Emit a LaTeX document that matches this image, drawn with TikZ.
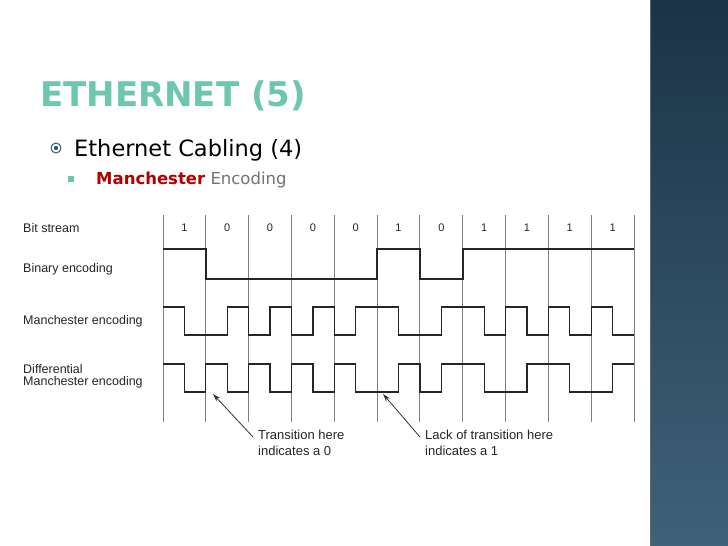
\documentclass[tikz,border=0pt]{standalone}
\usepackage{fontspec}
\setmainfont{Liberation Sans}
\newfontfamily\slidefont{DejaVu Sans}
\newfontfamily\titlefont{DejaVu Sans}
\usetikzlibrary{arrows.meta}
\definecolor{paneltop}{HTML}{1B3346}
\definecolor{panelbot}{HTML}{3F6279}
\definecolor{titleteal}{HTML}{6CC7AE}
\definecolor{darkred}{HTML}{B00000}
\definecolor{bulletblue}{HTML}{2F5A78}
\tikzset{
  lbl/.style={anchor=west, font=\fontsize{12.5}{13}\selectfont, text=black!85, inner sep=0pt, align=left},
  bit/.style={font=\fontsize{11}{12}\selectfont, inner sep=0pt, text=black!85},
  grid/.style={draw=black!50, line width=0.9pt},
  sig/.style={draw=black!85, line width=1.3pt},
  note/.style={anchor=north west, font=\fontsize{13}{16}\selectfont, inner sep=0pt, align=left, text=black!85},
  arr/.style={draw=black!80, line width=0.8pt, -{Stealth[length=8pt,width=5pt]}}
}
\begin{document}
\begin{tikzpicture}[x=1pt,y=-1pt]
\useasboundingbox (0,0) rectangle (728,546);
\fill[white] (0,0) rectangle (728,546);
\shade[top color=paneltop, bottom color=panelbot] (650,0) rectangle (728,546);
\draw[black!60, line width=1pt] (650,0) -- (650,546);
% title
\node[anchor=west, inner sep=0pt, text=titleteal, font=\titlefont\bfseries\fontsize{34}{40}\selectfont] (title) at (40,96) {ETHERNET (5)};
% bullets
\node[circle, draw=bulletblue, line width=1pt, minimum size=10pt, inner sep=0pt] (b1) at (56,148) {};
\fill[bulletblue] (b1.center) circle (2.2pt);
\node[anchor=west, inner sep=0pt, font=\slidefont\fontsize{22.5}{24}\selectfont] (t1) at (74,150) {Ethernet Cabling (4)};
\node[fill=titleteal, minimum size=6pt, inner sep=0pt] (b2) at (71,179) {};
\node[anchor=west, inner sep=0pt, font=\slidefont\fontsize{16.5}{18}\selectfont] (t2) at (96,180) {\textcolor{darkred}{\bfseries Manchester} \textcolor{black!55}{Encoding}};
% row labels
\node[lbl] (l1) at (23,228) {Bit stream};
\node[lbl] (l2) at (23,269) {Binary encoding};
\node[lbl] (l3) at (23,321) {Manchester encoding};
\node[lbl] (l4) at (23,376) {Differential\\[-1pt]Manchester encoding};
% grid
\foreach \i in {0,...,11} {
  \draw[grid] ({163+\i*42.82},215) -- ({163+\i*42.82},422);
}
\foreach \b [count=\i from 0] in {1,0,0,0,0,1,0,1,1,1,1} {
  \node[bit] (bit\i) at ({184.4+\i*42.82},228) {\b};
}
% signals
\def\W{42.82}
\def\H{21.41}
\draw[sig] (163,249) -- (206,249) -- (206,279) -- (377,279) -- (377,249) -- (420,249) -- (420,279) -- (463,279) -- (463,249) -- (634,249);
% Manchester
\draw[sig] (163,307)
  \foreach \b [count=\i from 0] in {1,0,0,0,0,1,0,1,1,1,1} {
    \ifnum\b=1
      -- ({163+\i*\W},307) -- ({163+\i*\W+\H},307) -- ({163+\i*\W+\H},335) -- ({163+(\i+1)*\W},335)
    \else
      -- ({163+\i*\W},335) -- ({163+\i*\W+\H},335) -- ({163+\i*\W+\H},307) -- ({163+(\i+1)*\W},307)
    \fi
  };
% differential Manchester
\draw[sig] (163,364)
  \foreach \b [count=\i from 0] in {1,1,1,1,1,0,0,1,0,1,0} {
    \ifnum\b=1
      -- ({163+\i*\W},364) -- ({163+\i*\W+\H},364) -- ({163+\i*\W+\H},392) -- ({163+(\i+1)*\W},392)
    \else
      -- ({163+\i*\W},392) -- ({163+\i*\W+\H},392) -- ({163+\i*\W+\H},364) -- ({163+(\i+1)*\W},364)
    \fi
  };
% notes
\node[note] (n1) at (258,430) {Transition here\\indicates a 0};
\node[note] (n2) at (425,430) {Lack of transition here\\indicates a 1};
\coordinate (p1) at (213,394);
\coordinate (p2) at (383,394);
\draw[arr] (n1.north west) ++(-5,7) -- (p1);
\draw[arr] (n2.north west) ++(-5,7) -- (p2);
\end{tikzpicture}
\end{document}
